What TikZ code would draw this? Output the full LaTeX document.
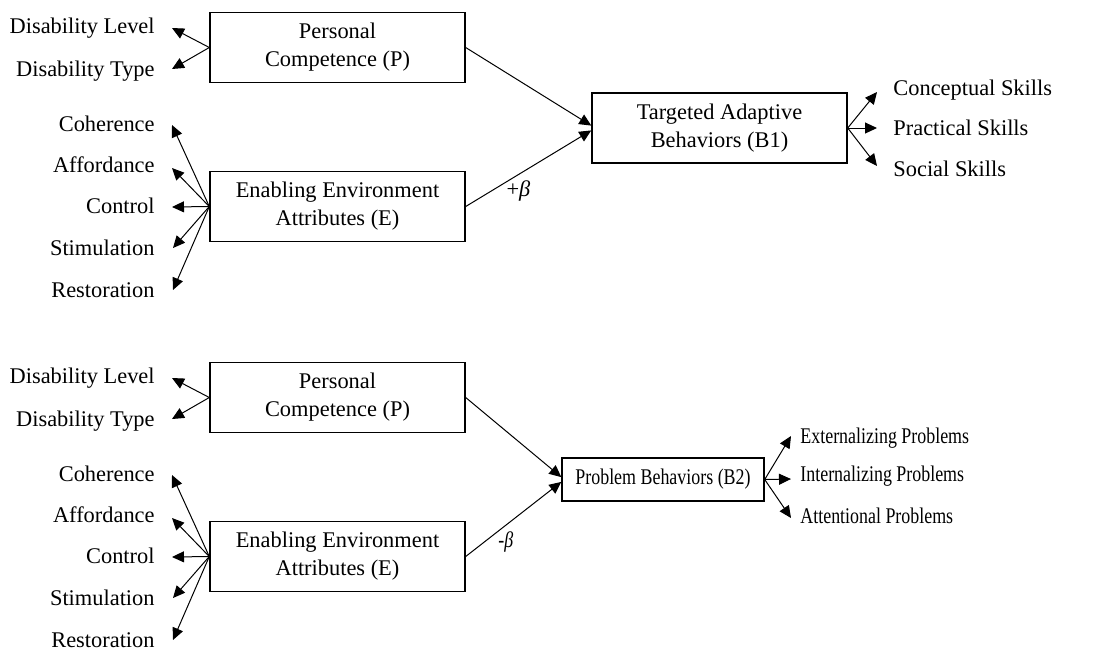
\documentclass[tikz,border=0pt]{standalone}
\usepackage{fontspec}
\setmainfont{Liberation Serif}
\newfontfamily\condfont[FakeStretch=0.8]{Liberation Serif}
\usetikzlibrary{arrows.meta}
\begin{document}
\begin{tikzpicture}[x=0.5pt,y=-0.5pt,
  font=\fontsize{11.2}{14}\selectfont,
  box/.style={draw,line width=0.7pt,minimum width=127.5pt,minimum height=35pt,align=center,inner sep=0pt},
  lab/.style={inner sep=0pt,anchor=base east},
  rlab/.style={inner sep=0pt,anchor=base west},
  cond/.style={font=\condfont\fontsize{11.2}{14}\selectfont},
  arr/.style={line width=0.5pt,-{Triangle[length=6pt,width=5.5pt]}}]
\useasboundingbox (0,0) rectangle (1108,650);

% ---------- left parts (both panels) ----------
\foreach \s/\d in {1/0,2/350}{
  \node[box] (P\s) at (337.5,47.5+\d) {Personal\\Competence (P)};
  \node[box] (E\s) at (337.5,206.5+\d) {Enabling Environment\\Attributes (E)};
  \node[lab] (dl\s) at (155,33+\d) {Disability Level};
  \node[lab] (dt\s) at (155,76+\d) {Disability Type};
  \node[lab] (co\s) at (155,131+\d) {Coherence};
  \node[lab] (af\s) at (155,172+\d) {Affordance};
  \node[lab] (ct\s) at (155,213+\d) {Control};
  \node[lab] (st\s) at (155,255+\d) {Stimulation};
  \node[lab] (re\s) at (155,297+\d) {Restoration};
  \coordinate (tdl\s) at (172,28+\d);
  \coordinate (tdt\s) at (172,69+\d);
  \coordinate (tco\s) at (172,125+\d);
  \coordinate (taf\s) at (172,168+\d);
  \coordinate (tct\s) at (172,207+\d);
  \coordinate (tst\s) at (173,248+\d);
  \coordinate (tre\s) at (173,290+\d);
  \draw[arr] (P\s.west) -- (tdl\s);
  \draw[arr] (P\s.west) -- (tdt\s);
  \draw[arr] (E\s.west) -- (tco\s);
  \draw[arr] (E\s.west) -- (taf\s);
  \draw[arr] (E\s.west) -- (tct\s);
  \draw[arr] (E\s.west) -- (tst\s);
  \draw[arr] (E\s.west) -- (tre\s);
}

% ---------- top panel right ----------
\node[box] (B1) at (719.5,128) {Targeted Adaptive\\Behaviors (B1)};
\draw[arr] (P1.east) -- ([yshift=1.2pt]B1.west);
\draw[arr] (E1.east) -- node[pos=0.42,below=3pt,inner sep=0pt] (pb) {+\textit{β}} ([yshift=-1.2pt]B1.west);
\node[rlab] (cs) at (893,95) {Conceptual Skills};
\node[rlab] (ps) at (893,135) {Practical Skills};
\node[rlab] (ss) at (893,176) {Social Skills};
\coordinate (tcs) at (877,92);
\coordinate (tps) at (877,128);
\coordinate (tss) at (877,166);
\draw[arr] (B1.east) -- (tcs);
\draw[arr] (B1.east) -- (tps);
\draw[arr] (B1.east) -- (tss);

% ---------- bottom panel right ----------
\node[box,cond,minimum width=101pt,minimum height=21.5pt] (B2) at (663,479.5) {Problem Behaviors (B2)};
\draw[arr] (P2.east) -- ([yshift=1.2pt]B2.west);
\draw[arr] (E2.east) -- node[pos=0.42,below=3pt,inner sep=0pt,cond] (mb) {-\textit{β}} ([yshift=-1.2pt]B2.west);
\node[rlab,cond] (ep) at (800,443) {Externalizing Problems};
\node[rlab,cond] (ip) at (800,481) {Internalizing Problems};
\node[rlab,cond] (ap) at (800,523) {Attentional Problems};
\coordinate (tep) at (791,436);
\coordinate (tip) at (791,479);
\coordinate (tap) at (791,518);
\draw[arr] (B2.east) -- (tep);
\draw[arr] (B2.east) -- (tip);
\draw[arr] (B2.east) -- (tap);
\end{tikzpicture}
\end{document}
